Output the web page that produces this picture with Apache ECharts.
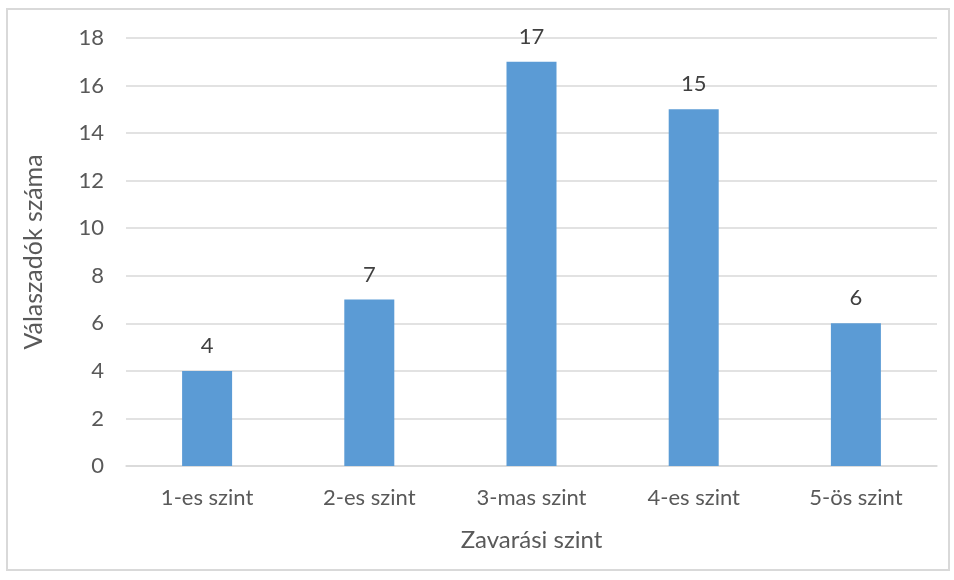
<!DOCTYPE html>
<html>
<head>
<meta charset="utf-8">
<script src="https://cdn.jsdelivr.net/npm/echarts@6/dist/echarts.min.js"></script>
<style>
  html, body { margin: 0; padding: 0; background: #fff; }
  #frame {
    position: absolute; left: 6px; top: 8px; width: 944px; height: 563px;
    border: 2px solid #d9d9d9; box-sizing: border-box;
  }
  #chart { position: absolute; left: 0; top: 0; width: 954px; height: 580px; }
</style>
</head>
<body>
<div id="frame"></div>
<div id="chart"></div>
<script>
// adatok
const categories = ['1-es szint', '2-es szint', '3-mas szint', '4-es szint', '5-ös szint'];
const values = [4, 7, 17, 15, 6];

const FONT = 'Lato, "Open Sans", sans-serif';
const chart = echarts.init(document.getElementById('chart'));

chart.setOption({
  animation: false,
  grid: { left: 126, right: 17, top: 38, bottom: 114 },
  xAxis: {
    type: 'category',
    data: categories,
    name: 'Zavarási szint',
    nameLocation: 'middle',
    nameGap: 62,
    nameTextStyle: { color: '#595959', fontSize: 24, fontFamily: FONT },
    axisLine: { lineStyle: { color: '#d9d9d9', width: 1.5 } },
    axisTick: { show: false },
    axisLabel: { color: '#595959', fontSize: 22, fontFamily: FONT, margin: 21 },
  },
  yAxis: {
    type: 'value',
    min: 0,
    max: 18,
    interval: 2,
    name: 'Válaszadók száma',
    nameLocation: 'middle',
    nameGap: 80,
    nameTextStyle: { color: '#595959', fontSize: 25, fontFamily: FONT },
    axisLine: { show: false },
    axisTick: { show: false },
    axisLabel: { color: '#595959', fontSize: 22, fontFamily: FONT, margin: 22 },
    splitLine: { lineStyle: { color: '#d9d9d9', width: 1.5 } }
  },
  series: [{
    type: 'bar',
    data: values,
    barWidth: 50,
    itemStyle: { color: '#5b9bd5' },
    label: {
      show: true,
      position: 'top',
      distance: 14,
      color: '#404040',
      fontSize: 22,
      fontFamily: FONT
    }
  }]
});
</script>
</body>
</html>
